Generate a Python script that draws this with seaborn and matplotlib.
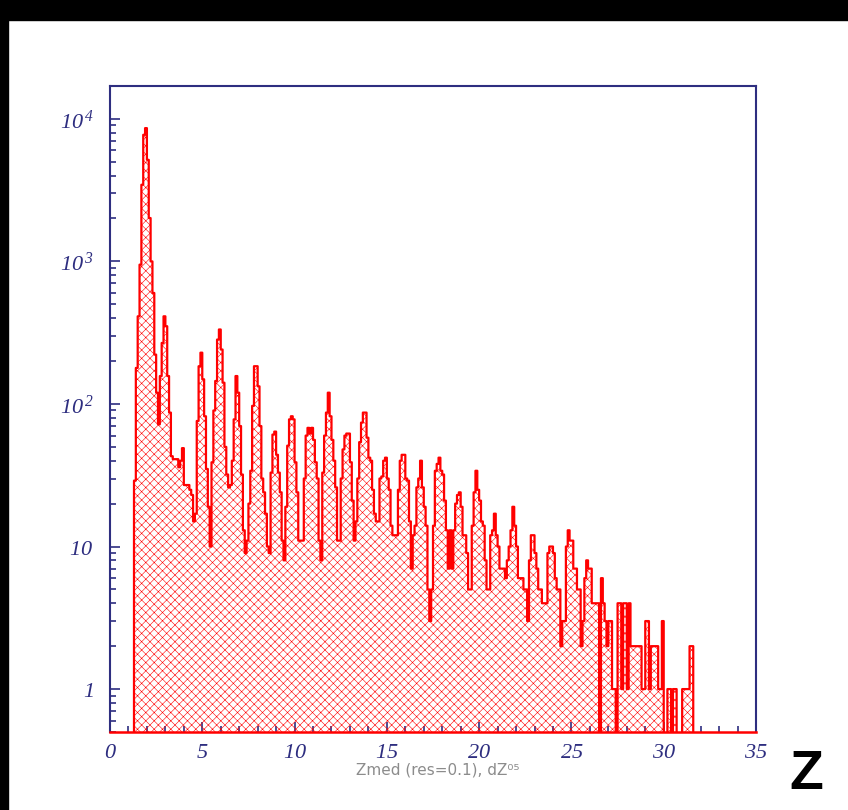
import numpy as np
import pandas as pd
import matplotlib
matplotlib.use("Agg")
import matplotlib.pyplot as plt
from matplotlib.patches import Rectangle
from matplotlib.ticker import FixedLocator, MultipleLocator, LogLocator, NullFormatter
import seaborn as sns

# histogram: left edge of first filled bin, bin width, counts per bin
z_first = 1.3
z_step = 0.1
counts = [
    29, 179, 412, 949, 3450, 7730, 8610,                  # 1.3 - 1.9
    5160, 2015, 1000, 601, 222, 120, 72, 157, 268, 412,   # 2.x
    351, 157, 87, 43, 41, 41, 41, 36, 40, 49,             # 3.x
    27, 27, 27, 25, 23, 15, 17, 76, 184, 229,             # 4.x
    149, 82, 35, 19, 10, 39, 90, 145, 283, 333,           # 5.x
    241, 141, 50, 32, 26, 27, 40, 78, 157, 120,           # 6.x
    70, 32, 13, 9, 11, 20, 34, 97, 184, 184,              # 7.x
    133, 70, 30, 24, 17, 10, 9, 33, 61, 64,               # 8.x
    44, 33, 24, 11, 8, 19, 51, 78, 82, 78,                # 9.x
    39, 24, 11, 11, 11, 30, 60, 68, 62, 68,               # 10.x
    56, 39, 30, 11, 8, 33, 60, 87, 120, 82,               # 11.x
    56, 40, 26, 11, 11, 30, 48, 60, 62, 62,               # 12.x
    39, 21, 11, 15, 30, 54, 74, 87, 87, 58,               # 13.x
    42, 40, 25, 17, 15, 15, 30, 31, 40, 42,               # 14.x
    30, 25, 14, 12, 12, 12, 25, 40, 44, 44,               # 15.x
    30, 29, 15, 7, 12, 14, 26, 30, 40, 26,                # 16.x
    19, 14, 5, 3, 5, 14, 34, 38, 42, 34,                  # 17.x
    32, 21, 13, 7, 13, 7, 13, 20, 23, 24,                 # 18.x
    19, 12, 12, 9, 5, 5, 14, 24, 34, 25,                  # 19.x
    21, 15, 14, 8, 5, 5, 12, 13, 17, 12,                  # 20.x
    10, 7, 7, 7, 6, 8, 10, 13, 19, 14,                    # 21.x
    10, 6, 6, 6, 5, 5, 3, 8, 12, 12,                      # 22.x
    9, 7, 5, 5, 4, 4, 4, 9, 10, 10,                       # 23.x
    9, 6, 5, 5, 2, 3, 3, 10, 13, 11,                      # 24.x
    11, 7, 7, 5, 5, 2, 3, 6, 8, 7,                        # 25.x
    7, 4, 4, 4, 4, 0, 6, 4, 3, 2,                         # 26.x
    3, 3, 1, 1, 0, 4, 4, 1, 4, 4,                         # 27.x
    1, 4, 2, 2, 2, 2, 2, 2, 1, 1,                         # 28.x
    3, 3, 1, 2, 2, 2, 2, 1, 1, 3,                         # 29.x
    0, 0, 1, 1, 0, 1, 1, 0, 0, 0,                         # 30.x
    1, 1, 1, 1, 2, 2,                                     # 31.0 - 31.5
]

x_range = (0, 35)
y_range = (0.5, 1.7e4)
x_major = [0, 5, 10, 15, 20, 25, 30, 35]
y_major = [1, 10, 100, 1000, 10000]
y_labels = ['$1$', '$10$', r'$10^{\,2}$', r'$10^{\,3}$', r'$10^{\,4}$']
x_title = 'Zmed (res=0.1), dZ⁰⁵'
corner_label = 'Z'

navy = '#2e2e80'

sns.set_theme(style='white')
plt.rcParams['font.family'] = ['DejaVu Sans']
plt.rcParams['mathtext.fontset'] = 'custom'
plt.rcParams['mathtext.rm'] = 'Liberation Serif:italic'
plt.rcParams['mathtext.it'] = 'Liberation Serif:italic'
plt.rcParams['hatch.color'] = 'red'
plt.rcParams['hatch.linewidth'] = 0.4

df = pd.DataFrame({
    'z': z_first + z_step * (np.arange(len(counts)) + 0.5),
    'n': counts,
})
edges = [round(x_range[0] + i * z_step, 2)
         for i in range(int(round((x_range[1] - x_range[0]) / z_step)) + 1)]

fig = plt.figure(figsize=(8.48, 8.10), dpi=100)
fig.patch.set_facecolor('white')
# black frame bands at top and left of the original screenshot
fig.add_artist(Rectangle((0, 1 - 20 / 810), 1, 20 / 810, transform=fig.transFigure,
                         color='black', zorder=0))
fig.add_artist(Rectangle((0, 0), 8 / 848, 1, transform=fig.transFigure,
                         color='black', zorder=0))

ax = fig.add_axes([110 / 848, 78 / 810, 646 / 848, 646 / 810])
sns.histplot(data=df, x='z', weights='n', bins=edges, element='step',
             fill=True, color='red', ax=ax)
ax.set_yscale('log')

poly = ax.collections[0]
poly.set_facecolor('none')
poly.set_edgecolor('red')
poly.set_hatch('xxxx')
poly.set_linewidth(1.6)

ax.set_xlim(*x_range)
ax.set_ylim(*y_range)

ax.xaxis.set_major_locator(FixedLocator(x_major))
ax.xaxis.set_minor_locator(MultipleLocator(1))
ax.set_xticklabels([f'${v}$' for v in x_major])
ax.yaxis.set_major_locator(FixedLocator(y_major))
ax.yaxis.set_minor_locator(LogLocator(base=10, subs=np.arange(2, 10)))
ax.yaxis.set_minor_formatter(NullFormatter())
ax.set_yticklabels(y_labels)

ax.tick_params(which='both', direction='in', color=navy, labelcolor=navy,
               top=False, right=False, bottom=True, left=True, width=1.2)
ax.tick_params(which='major', length=7.5, labelsize=16)
ax.tick_params(which='minor', length=4)
ax.tick_params(axis='y', pad=12)
ax.tick_params(axis='x', pad=7)

for side in ['top', 'left', 'right']:
    ax.spines[side].set_color(navy)
    ax.spines[side].set_linewidth(1.5)
ax.spines['bottom'].set_color('red')
ax.spines['bottom'].set_linewidth(1.8)

ax.set_ylabel('')
ax.set_xlabel(x_title, fontsize=11, color='#8c8c8c', family=['DejaVu Sans'])
ax.xaxis.set_label_coords(0.508, -0.047)

fig.text(806 / 848, 1 - 775 / 810, corner_label, fontsize=40, fontweight='bold',
         family='Liberation Sans', ha='center', va='center', color='black')

fig.savefig('out.png', dpi=100)
